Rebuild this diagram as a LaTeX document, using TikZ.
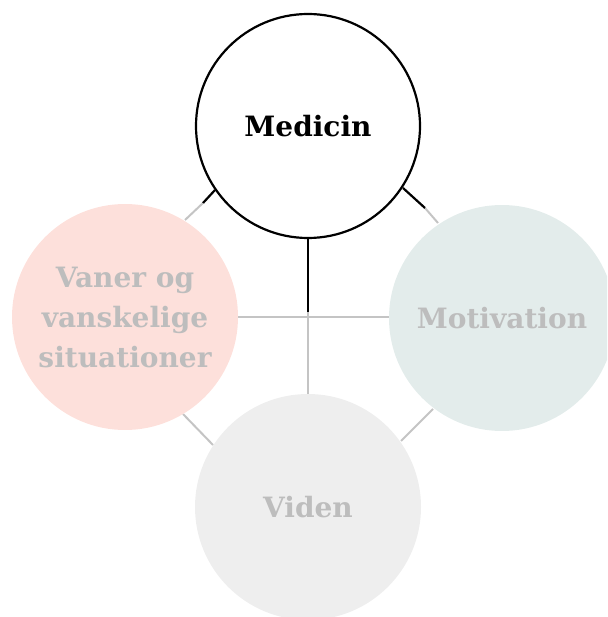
\documentclass[tikz,border=0pt]{standalone}
\usepackage{fontspec}
\setmainfont{DejaVu Serif}
\definecolor{pinkfill}{HTML}{FDE0DB}
\definecolor{mintfill}{HTML}{E3ECEB}
\definecolor{greyfill}{HTML}{EEEEEE}
\definecolor{txtgrey}{HTML}{BDBDBD}
\definecolor{linegrey}{HTML}{C4C4C4}
\begin{document}
\begin{tikzpicture}[x=1pt,y=-1pt,
  circ/.style={circle,minimum size=226pt,inner sep=0pt,font=\bfseries\fontsize{28}{40}\selectfont,align=center,text=txtgrey},
  gline/.style={draw=linegrey,line width=2pt},
  bline/.style={draw=black,line width=2.2pt}]
\useasboundingbox (0,0) rectangle (607,617);
\clip (0,0) rectangle (607,617);
\coordinate (c) at (308,317);
\coordinate (mv1) at (215,190);
\coordinate (mv2) at (203,203);
\coordinate (mv3) at (185,220);
\coordinate (mm1) at (403,188);
\coordinate (mm2) at (425,208);
\coordinate (mm3) at (438,223);
\coordinate (vv1) at (183,414);
\coordinate (vv2) at (213,445);
\coordinate (mo1) at (433,409);
\coordinate (mo2) at (401,441);
\coordinate (b1) at (308,312);
% grey connectors
\draw[gline] (238,317) -- (389,317);
\draw[gline] (c) -- (308,394);
\draw[gline] (c) -- (b1);
\draw[gline] (mv2) -- (mv3);
\draw[gline] (mm2) -- (mm3);
\draw[gline] (vv1) -- (vv2);
\draw[gline] (mo1) -- (mo2);
\node[circ,fill=pinkfill] (vaner) at (125,317) {Vaner og\\vanskelige\\situationer};
\node[circ,fill=mintfill] (motiv) at (502,318) {Motivation};
\node[circ,fill=greyfill] (viden) at (308,507) {Viden};
\node[circ,draw=black,line width=2.2pt,fill=white,text=black,minimum size=224pt] (med) at (308,126) {Medicin};
% black progress segments
\draw[bline] (med.south) -- (b1);
\draw[bline] (mv1) -- (mv2);
\draw[bline] (mm1) -- (mm2);
\end{tikzpicture}
\end{document}
